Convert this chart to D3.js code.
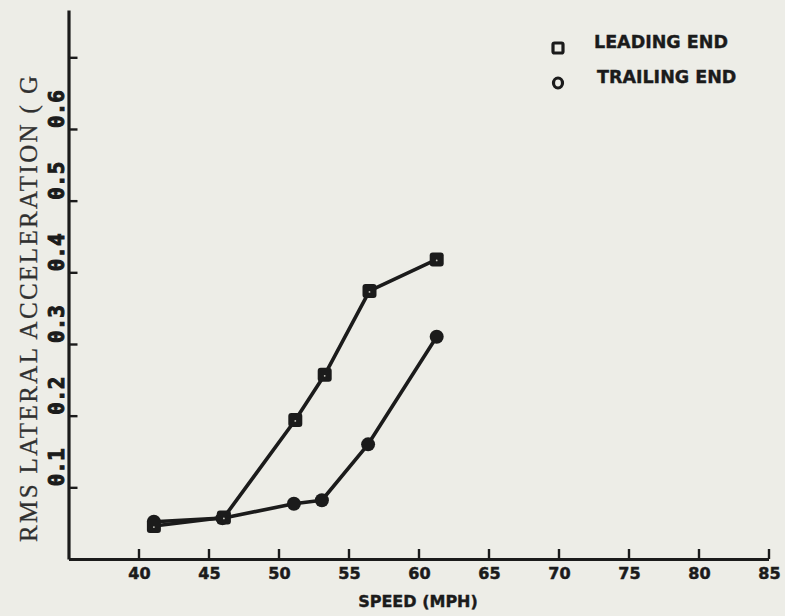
<!DOCTYPE html>
<html>
<head>
<meta charset="utf-8">
<script src="https://cdn.jsdelivr.net/npm/d3@7"></script>
<style>
  html, body { margin: 0; padding: 0; background: #edede7; }
  svg { display: block; }
</style>
</head>
<body>
<div id="chart"></div>
<script>
// Speed sweep (mph) and RMS lateral acceleration (g) at each car end
const speedsLeading  = [41.1, 46.1, 51.2, 53.3, 56.5, 61.3];
const leadingEnd     = [0.046, 0.058, 0.194, 0.257, 0.374, 0.418];
const speedsTrailing = [41.1, 46.0, 51.1, 53.1, 56.4, 61.3];
const trailingEnd    = [0.052, 0.057, 0.077, 0.082, 0.160, 0.310];

const xTicks = [40, 45, 50, 55, 60, 65, 70, 75, 80, 85];
const yTicks = [0.1, 0.2, 0.3, 0.4, 0.5, 0.6, 0.7];
const yTickLabels = ["0.1", "0.2", "0.3", "0.4", "0.5", "0.6"];
const seriesNames = ["LEADING END", "TRAILING END"];

const W = 785, H = 616;
const ink = "#1b1b1b";

const svg = d3.select("#chart").append("svg")
  .attr("width", W).attr("height", H);

const x = d3.scaleLinear().domain([35, 85]).range([68.5, 768.5]);
const y = d3.scaleLinear().domain([0, 0.766]).range([559, 10]);

// Axes: ticks point into the plot area
const xAxis = d3.axisBottom(x).tickValues(xTicks).tickSize(-10).tickSizeOuter(0).tickFormat("");
const yAxis = d3.axisLeft(y).tickValues(yTicks).tickSize(-9).tickSizeOuter(0).tickFormat("");

const gx = svg.append("g").attr("transform", `translate(0,${y(0)})`).call(xAxis);
const gy = svg.append("g").attr("transform", `translate(${x(35)},0)`).call(yAxis);
[gx, gy].forEach(g => {
  g.select(".domain").attr("stroke", ink).attr("stroke-width", 3.2);
  g.selectAll(".tick line").attr("stroke", ink).attr("stroke-width", 2.4);
});

// X tick labels
svg.append("g").selectAll("text").data(xTicks).join("text")
  .attr("x", d => x(d) + 1)
  .attr("y", 579)
  .attr("text-anchor", "middle")
  .attr("font-family", "DejaVu Sans")
  .attr("font-weight", "bold")
  .attr("font-size", 16)
  .attr("fill", ink)
  .attr("stroke", ink).attr("stroke-width", 0.5)
  .text(d => d);

// Y tick labels, rotated, each starting at its tick
svg.append("g").selectAll("text").data(yTickLabels).join("text")
  .attr("transform", (d, i) => `translate(64,${y(yTicks[i]) - 1}) rotate(-90)`)
  .attr("text-anchor", "start")
  .attr("font-family", "DejaVu Sans Mono")
  .attr("font-weight", "bold")
  .attr("font-size", 21)
  .attr("fill", ink)
  .attr("stroke", ink).attr("stroke-width", 1)
  .text(d => d);

// Axis titles
svg.append("text")
  .attr("x", 418).attr("y", 607)
  .attr("text-anchor", "middle")
  .attr("font-family", "DejaVu Sans")
  .attr("font-weight", "bold")
  .attr("font-size", 16)
  .attr("fill", ink)
  .attr("stroke", ink).attr("stroke-width", 0.4)
  .text("SPEED (MPH)");

svg.append("text")
  .attr("transform", "translate(37,542) rotate(-90)")
  .attr("text-anchor", "start")
  .attr("font-family", "Liberation Serif")
  .attr("font-size", 25)
  .attr("textLength", 466)
  .attr("lengthAdjust", "spacing")
  .attr("fill", "#303030")
  .attr("stroke", "#303030").attr("stroke-width", 0.3)
  .text("RMS LATERAL ACCELERATION ( G");

// Lines
const line = d3.line().x(d => x(d[0])).y(d => y(d[1]));
const leadPts = speedsLeading.map((s, i) => [s, leadingEnd[i]]);
const trailPts = speedsTrailing.map((s, i) => [s, trailingEnd[i]]);

[leadPts, trailPts].forEach(pts => {
  svg.append("path").datum(pts)
    .attr("d", line)
    .attr("fill", "none")
    .attr("stroke", ink)
    .attr("stroke-width", 3.6)
    .attr("stroke-linejoin", "round");
});

// Trailing-end markers: filled circles
svg.append("g").selectAll("circle").data(trailPts).join("circle")
  .attr("cx", d => x(d[0])).attr("cy", d => y(d[1]))
  .attr("r", 7)
  .attr("fill", ink);

// Leading-end markers: filled squares with a small light centre
const sq = 14;
const gLead = svg.append("g");
gLead.selectAll("rect").data(leadPts).join("rect")
  .attr("x", d => x(d[0]) - sq / 2).attr("y", d => y(d[1]) - sq / 2)
  .attr("width", sq).attr("height", sq)
  .attr("rx", 3)
  .attr("fill", ink);
gLead.selectAll("circle").data(leadPts).join("circle")
  .attr("cx", d => x(d[0])).attr("cy", d => y(d[1]) + 1)
  .attr("r", 0.9)
  .attr("fill", "#c8c8c0");

// Legend
const legend = svg.append("g");
legend.append("rect")
  .attr("x", 553).attr("y", 43).attr("width", 10).attr("height", 10)
  .attr("rx", 1.5)
  .attr("fill", "none").attr("stroke", ink).attr("stroke-width", 3.2);
legend.append("ellipse")
  .attr("cx", 558).attr("cy", 83).attr("rx", 4.5).attr("ry", 5)
  .attr("fill", "none").attr("stroke", ink).attr("stroke-width", 3.2);
legend.selectAll("text").data(seriesNames).join("text")
  .attr("x", (d, i) => i === 0 ? 594 : 597)
  .attr("y", (d, i) => i === 0 ? 48 : 83)
  .attr("font-family", "DejaVu Sans")
  .attr("font-weight", "bold")
  .attr("font-size", 17.5)
  .attr("fill", ink)
  .attr("stroke", ink).attr("stroke-width", 0.4)
  .text(d => d);
</script>
</body>
</html>
